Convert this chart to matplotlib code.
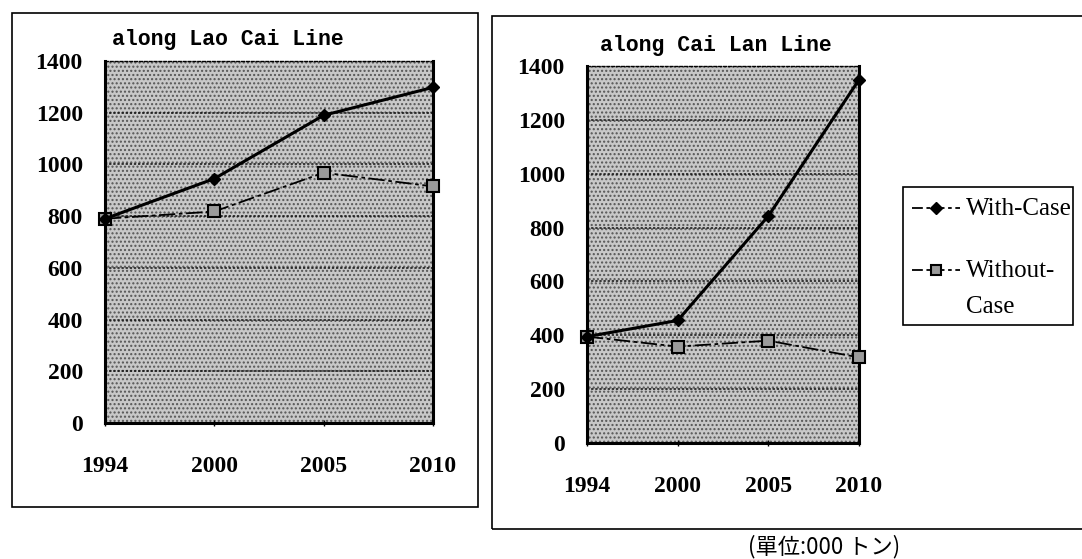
import matplotlib
matplotlib.use("Agg")
import matplotlib.pyplot as plt
from matplotlib.patches import Rectangle
from matplotlib.lines import Line2D

years = ["1994", "2000", "2005", "2010"]
lao_with = [790, 945, 1190, 1298]
lao_without = [790, 818, 968, 915]
cai_with = [395, 455, 843, 1349]
cai_without = [395, 358, 380, 318]
yticks = [0, 200, 400, 600, 800, 1000, 1200, 1400]
titles = ["along Lao Cai Line", "along Cai Lan Line"]
legend_labels = ["With-Case", "Without-", "Case"]
unit_note = "(單位:000 トン)"

W, H = 1082, 559
fig = plt.figure(figsize=(W / 100, H / 100), dpi=100)
fig.patch.set_facecolor("white")

serif = ["Liberation Serif", "DejaVu Serif"]
mono = ["Liberation Mono", "DejaVu Sans Mono"]


def fx(px):
    return px / W


def fy(py):
    return 1 - py / H


# panel borders
fig.add_artist(Rectangle((fx(12), fy(507)), fx(478 - 12), (507 - 13) / H,
                         transform=fig.transFigure, fill=False, lw=1.2, ec="black"))
fig.add_artist(Rectangle((fx(492), fy(529)), fx(1090 - 492), (529 - 16) / H,
                         transform=fig.transFigure, fill=False, lw=1.2, ec="black"))


def make_panel(rect, w_vals, wo_vals, title, title_x, title_y):
    ax = fig.add_axes(rect)
    ax.set_facecolor("#c8c8c8")
    ax.add_patch(Rectangle((0, 0), 1, 1, transform=ax.transAxes, fill=False,
                           hatch="....", ec="#555555", lw=0, zorder=0.5))
    x = list(range(len(years)))
    ax.set_xlim(0, len(years) - 1)
    ax.set_ylim(0, 1400)
    ax.set_yticks(yticks)
    ax.set_yticklabels([str(v) for v in yticks], fontfamily=serif, fontsize=17,
                       fontweight="bold")
    ax.set_xticks(x)
    ax.set_xticklabels(years, fontfamily=serif, fontsize=17, fontweight="bold")
    ax.tick_params(axis="x", length=4, width=1, direction="inout", pad=22)
    ax.tick_params(axis="y", length=0, pad=16)
    for v in yticks[1:-1]:
        ax.axhline(v, color="#111111", lw=1.1, ls=(0, (1.5, 1.2)), zorder=1)
    for s in ["left", "bottom", "right"]:
        ax.spines[s].set_linewidth(2.2)
    ax.spines["top"].set_linewidth(1.0)
    ax.spines["top"].set_linestyle((0, (2, 1.5)))
    ax.plot(x, wo_vals, color="black", lw=1.3, ls=(0, (9, 2, 2, 2)),
            marker="s", ms=8, mfc="#9a9a9a", mec="black", mew=1.5,
            clip_on=False, zorder=3)
    ax.plot(x, w_vals, color="black", lw=2.2, marker="D", ms=6.5,
            mfc="black", mec="black", clip_on=False, zorder=4)
    fig.text(fx(title_x), fy(title_y), title, fontfamily=mono, fontweight="bold",
             fontsize=15.5, ha="center", va="center")
    return ax


make_panel([fx(105), fy(423), fx(433 - 105), (423 - 61) / H],
           lao_with, lao_without, titles[0], 228, 40)
make_panel([fx(587), fy(443), fx(859 - 587), (443 - 66) / H],
           cai_with, cai_without, titles[1], 716, 45)

# legend
fig.add_artist(Rectangle((fx(903), fy(325)), fx(1073 - 903), (325 - 187) / H,
                         transform=fig.transFigure, fill=True, fc="white", lw=1.2, ec="black"))
fig.add_artist(Line2D([fx(912), fx(960)], [fy(208), fy(208)], transform=fig.transFigure,
                      color="black", lw=1.3, ls=(0, (6, 2, 2, 2))))
fig.add_artist(Line2D([fx(936)], [fy(208)], transform=fig.transFigure,
                      color="black", lw=0, marker="D", ms=6, mfc="black"))
fig.add_artist(Line2D([fx(912), fx(960)], [fy(270), fy(270)], transform=fig.transFigure,
                      color="black", lw=1.3, ls=(0, (6, 2, 2, 2))))
fig.add_artist(Line2D([fx(936)], [fy(270)], transform=fig.transFigure,
                      color="black", lw=0, marker="s", ms=7, mfc="#9a9a9a", mec="black", mew=1.5))
fig.text(fx(966), fy(209), legend_labels[0], fontfamily=serif, fontsize=18,
         ha="left", va="center")
fig.text(fx(966), fy(271), legend_labels[1], fontfamily=serif, fontsize=18,
         ha="left", va="center")
fig.text(fx(966), fy(307), legend_labels[2], fontfamily=serif, fontsize=18,
         ha="left", va="center")

fig.text(fx(824), fy(547), unit_note,
         fontfamily=["Noto Sans CJK JP", "DejaVu Sans"], fontsize=16,
         ha="center", va="center")

fig.savefig("out.png", dpi=100)
